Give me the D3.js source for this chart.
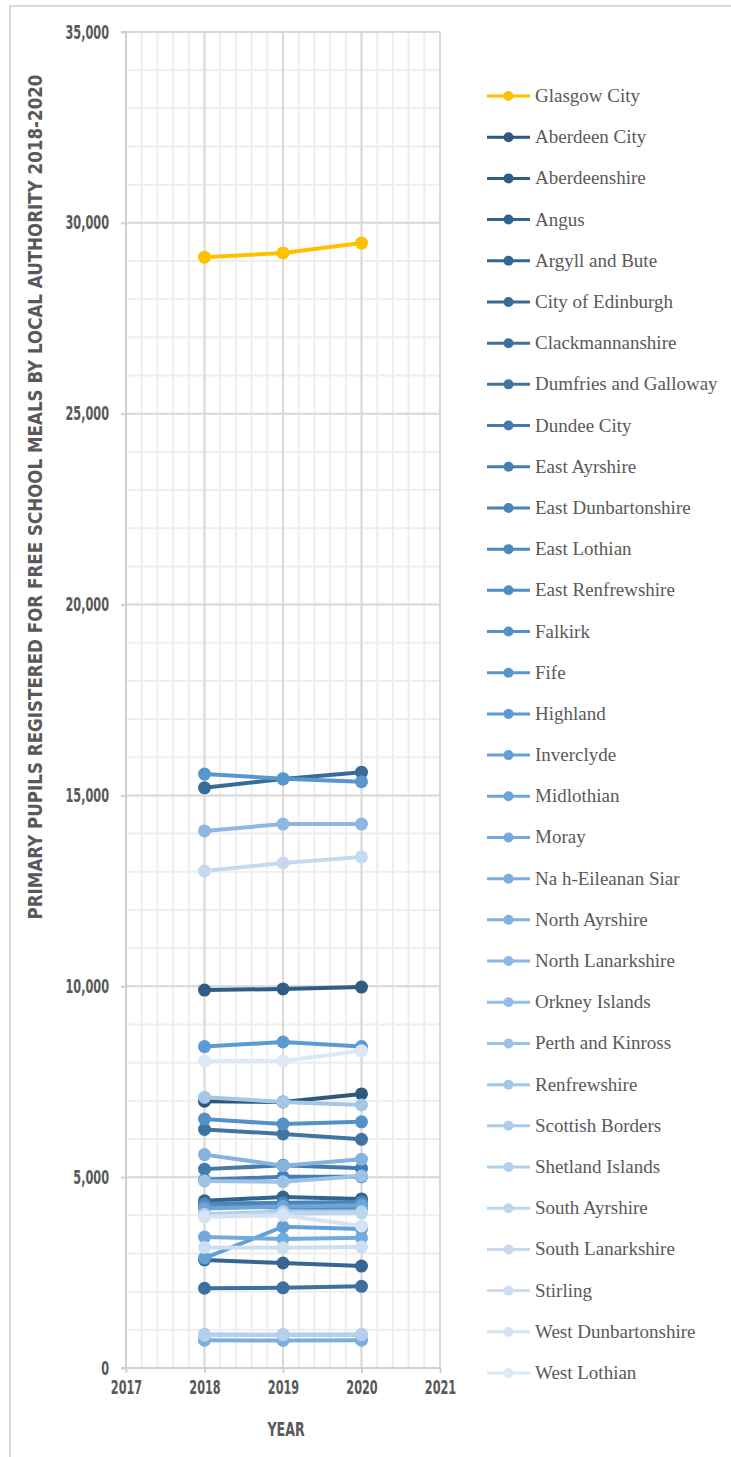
<!DOCTYPE html>
<html><head><meta charset="utf-8">
<script src="https://cdn.jsdelivr.net/npm/d3@7"></script>
<style>
html,body{margin:0;padding:0;background:#fff;}
svg{display:block;}
</style></head>
<body>
<svg id="chart" width="731" height="1457"></svg>
<script>
const years = [2018, 2019, 2020];
const authorities = ["Glasgow City","Aberdeen City","Aberdeenshire","Angus","Argyll and Bute","City of Edinburgh","Clackmannanshire","Dumfries and Galloway","Dundee City","East Ayrshire","East Dunbartonshire","East Lothian","East Renfrewshire","Falkirk","Fife","Highland","Inverclyde","Midlothian","Moray","Na h-Eileanan Siar","North Ayrshire","North Lanarkshire","Orkney Islands","Perth and Kinross","Renfrewshire","Scottish Borders","Shetland Islands","South Ayrshire","South Lanarkshire","Stirling","West Dunbartonshire","West Lothian"];
const v2018 = [29100,6990,9900,4380,2830,15200,2090,6250,5210,4930,4300,4220,4250,6520,15560,8420,2880,4180,3430,730,5590,14070,880,4900,7090,4030,860,3980,13020,3160,3960,8040];
const v2019 = [29210,6970,9930,4480,2750,15430,2100,6130,5310,5010,4330,4270,4200,6390,15440,8540,3700,4230,3380,720,5300,14250,870,4880,6970,4100,870,4050,13230,3150,4000,8040];
const v2020 = [29470,7180,9980,4430,2670,15610,2140,5990,5230,5010,4350,4300,4180,6450,15360,8420,3640,4260,3410,730,5470,14250,870,5030,6890,4100,880,4060,13390,3170,3720,8310];
const yTicks = [0,5000,10000,15000,20000,25000,30000,35000];
const xTicks = [2017,2018,2019,2020,2021];
const yTitle = "PRIMARY PUPILS REGISTERED FOR FREE SCHOOL MEALS BY LOCAL AUTHORITY 2018-2020";
const xTitle = "YEAR";

const svg = d3.select("#chart");
const condensed = "'DejaVu Sans Condensed','Liberation Sans Narrow',sans-serif";
const serif = "'Liberation Serif','DejaVu Serif',serif";
const txt = "#595959";

// squeeze condensed text horizontally
function squeeze(sel, f){
  sel.each(function(){
    const w = this.getComputedTextLength();
    d3.select(this).attr("textLength", w*f).attr("lengthAdjust","spacingAndGlyphs");
  });
}

// frame
svg.append("path").attr("d","M10,1457 V6 H731").attr("fill","none").attr("stroke","#d9d9d9").attr("stroke-width",2);

const x = d3.scaleLinear().domain([2017,2021]).range([126,440]);
const y = d3.scaleLinear().domain([0,35000]).range([1368,32]);

const grid = svg.append("g");
d3.range(2017,2021.001,0.2).forEach(v=>{
  grid.append("line").attr("x1",x(v)).attr("x2",x(v)).attr("y1",y(35000)).attr("y2",y(0))
    .attr("stroke","#eeeeee").attr("stroke-width",2);
});
d3.range(0,35001,1000).forEach(v=>{
  grid.append("line").attr("x1",x(2017)).attr("x2",x(2021)).attr("y1",y(v)).attr("y2",y(v))
    .attr("stroke","#eeeeee").attr("stroke-width",2);
});
xTicks.forEach(v=>{
  grid.append("line").attr("x1",x(v)).attr("x2",x(v)).attr("y1",y(35000)).attr("y2",y(0))
    .attr("stroke","#d9d9d9").attr("stroke-width",2);
});
yTicks.forEach(v=>{
  grid.append("line").attr("x1",x(2017)).attr("x2",x(2021)).attr("y1",y(v)).attr("y2",y(v))
    .attr("stroke","#d9d9d9").attr("stroke-width",2);
});

// axes
const yAxis = svg.append("g").attr("transform",`translate(${x(2017)},0)`)
  .call(d3.axisLeft(y).tickValues(yTicks).tickFormat(d3.format(",")).tickSize(5).tickPadding(12));
const xAxis = svg.append("g").attr("transform",`translate(0,${y(0)})`)
  .call(d3.axisBottom(x).tickValues(xTicks).tickFormat(d3.format("d")).tickSize(5).tickPadding(8));
[yAxis,xAxis].forEach(a=>{
  a.select(".domain").attr("stroke","#d0d0d0").attr("stroke-width",2);
  a.selectAll(".tick line").attr("stroke","#d0d0d0").attr("stroke-width",2);
  a.selectAll(".tick text").attr("fill",txt).attr("font-family",condensed).attr("font-weight","bold").attr("font-size",19);
  squeeze(a.selectAll(".tick text"),0.66);
});
yAxis.select(".domain").attr("d",`M-5,${y(35000)}H0V${y(0)}`);
xAxis.select(".domain").attr("d",`M${x(2017)-5},0H${x(2021)}`);

// titles
svg.append("text").attr("transform","translate(42,497) rotate(-90)").attr("text-anchor","middle")
  .attr("fill",txt).attr("font-family",condensed).attr("font-weight","bold").attr("font-size",19)
  .attr("textLength",845).attr("lengthAdjust","spacingAndGlyphs").text(yTitle);
const xt = svg.append("text").attr("x",286).attr("y",1436).attr("text-anchor","middle")
  .attr("fill",txt).attr("font-family",condensed).attr("font-weight","bold").attr("font-size",20).text(xTitle);
squeeze(xt,0.7);

// colours
const blue = (i)=>{
  const t = (i-1)/30, p = 14/30;
  return t<=p ? d3.interpolateRgb("#2c587e","#5b9bd5")(t/p) : d3.interpolateRgb("#5b9bd5","#dde8f5")((t-p)/(1-p));
};
const color = i => i===0 ? "#ffc000" : blue(i);

const series = authorities.map((name,i)=>({name,i,vals:[v2018[i],v2019[i],v2020[i]]}));
const line = d3.line().x((d,k)=>x(years[k])).y(d=>y(d));
const plot = svg.append("g");
series.forEach(s=>{
  const g = plot.append("g");
  g.append("path").attr("d",line(s.vals)).attr("fill","none").attr("stroke",color(s.i)).attr("stroke-width",4);
  g.selectAll("circle").data(s.vals).join("circle")
    .attr("cx",(d,k)=>x(years[k])).attr("cy",d=>y(d)).attr("r",6.5).attr("fill",color(s.i));
});

// legend
const leg = svg.append("g");
const ly = d3.scaleLinear().domain([0,31]).range([96,1373]);
series.forEach(s=>{
  const g = leg.append("g").attr("transform",`translate(0,${ly(s.i)})`);
  g.append("line").attr("x1",487).attr("x2",530).attr("stroke",color(s.i)).attr("stroke-width",3);
  g.append("circle").attr("cx",508.5).attr("r",5).attr("fill",color(s.i));
  g.append("text").attr("x",535).attr("y",6).attr("fill",txt).attr("font-family",serif).attr("font-size",19).text(s.name);
});
</script>
</body></html>
